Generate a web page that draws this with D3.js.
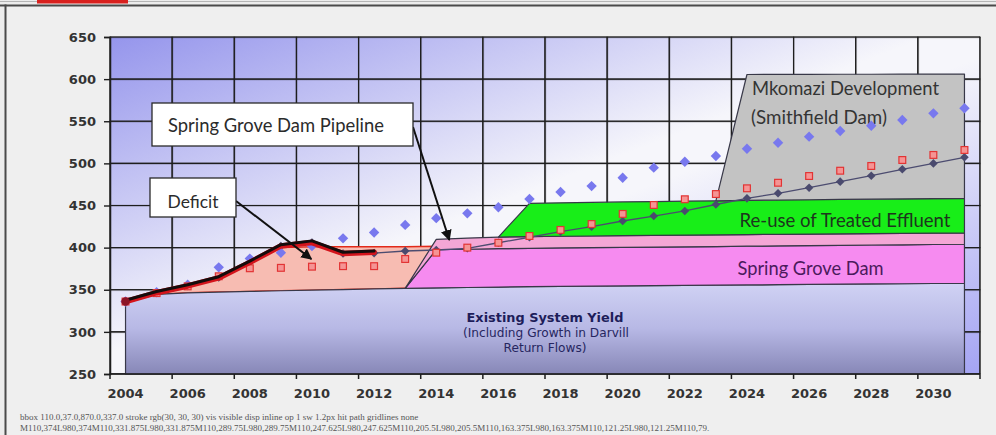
<!DOCTYPE html>
<html><head><meta charset="utf-8">
<script src="https://cdn.jsdelivr.net/npm/d3@7"></script>
<style>
html,body{margin:0;padding:0;background:#ececec;}
svg{display:block;}
</style></head>
<body>
<svg id="chart" width="996" height="435"></svg>
<script>
// ---- data -------------------------------------------------------------
const years = [2004,2005,2006,2007,2008,2009,2010,2011,2012,2013,2014,2015,2016,2017,
               2018,2019,2020,2021,2022,2023,2024,2025,2026,2027,2028,2029,2030,2031];
const xTickLabels = [2004,2006,2008,2010,2012,2014,2016,2018,2020,2022,2024,2026,2028,2030];
const yTicks = [250,300,350,400,450,500,550,600,650];

const existingYield = [334.5,344.5,346.4,347.2,348.0,348.8,349.5,350.2,351.0,351.7,
                       352.2,352.7,353.2,353.6,353.9,354.2,354.5,354.8,355.1,355.4,
                       355.7,356.0,356.3,356.6,356.9,357.1,357.4,357.6];
const springGroveDam = [null,null,null,null,null,null,null,null,null,0,
                        45.3,45.4,45.5,45.6,45.7,45.7,45.8,45.8,45.9,45.9,
                        46.0,46.0,46.1,46.1,46.2,46.2,46.3,46.4];
const springGrovePipeline = [null,null,null,null,null,null,null,null,null,0,
                             12.3,13.2,13.8,13.9,13.9,13.9,13.9,13.9,13.8,13.8,
                             13.8,13.8,13.7,13.7,13.6,13.6,13.5,13.5];
const reuseEffluent = [null,null,null,null,null,null,null,null,null,null,null,null,0,
                       39.5,39.7,39.9,40.0,40.2,40.4,40.5,40.6,40.7,40.7,40.8,40.8,40.9,40.9,41.0];
const mkomazi = [null,null,null,null,null,null,null,null,null,null,null,null,null,null,
                 null,null,null,null,null,0,149.4,149.2,148.9,148.6,148.3,148.1,147.9,147.5];
const deficitTop = [335.5,346,354.5,364,382,400,401,401,401,401,401.5,
                    null,null,null,null,null,null,null,null,null,null,null,null,null,null,null,null,null];
const demandHigh = [336,347,356,376.6,387,394,402,411,418,427,435,440.7,447.9,457.7,
                    466,473,483,494.9,502,508.8,517.4,524.5,531.7,538.4,544.7,551.5,559.4,565.4];
const demandMid = [336,346,354,366,375.5,376,377.4,378,378,386.5,394,400,405.8,413.8,
                   421,428,440,450.6,457.4,463.6,470.4,477,485,491.3,496.9,504,510,515.9];
const demandBase = [336,346.5,354.5,364.5,382.5,402,406,393,393.5,396,397.2,399.2,405.8,412.3,
                    418.9,424.8,431.6,437.5,443.5,451.2,458.5,464.5,471.1,478.3,485.4,493,500,507.2];
const actualUseRed   = [336,346.5,354.5,364,382.5,402,406,393,394.5,
                        null,null,null,null,null,null,null,null,null,null,null,null,null,null,null,null,null,null,null];
const actualUseBlack = [337.5,348,356,365.5,384,403.5,408,394.5,396,
                        null,null,null,null,null,null,null,null,null,null,null,null,null,null,null,null,null,null,null];

const svg = d3.select('#chart');
const plot = {left:110, right:980, top:37, bottom:374};
const x = d3.scaleBand().domain(years).range([plot.left, plot.right]).padding(0);
const bw = x.bandwidth();
const cx = yr => x(yr) + bw / 2;
const xAt = yrFloat => x(years[0]) + bw / 2 + (yrFloat - years[0]) * bw;
const xEdge = d3.scaleLinear()
  .domain([years[0] - 0.5, years[years.length - 1] + 0.5])
  .range([plot.left, plot.right]);
const boundaries = xTickLabels.map(v => v - 0.5).concat([years[years.length - 1] + 0.5]);
const y = d3.scaleLinear().domain([250, 650]).range([plot.bottom, plot.top]);

const rows = years.map((yr, i) => ({
  year: yr, existing: existingYield[i], springGrove: springGroveDam[i],
  pipeline: springGrovePipeline[i], reuse: reuseEffluent[i], mkomazi: mkomazi[i]
}));

const defs = svg.append('defs');
const ink = '#1e1e1e';

svg.append('rect').attr('width', 996).attr('height', 435).attr('fill', '#ececec');
svg.append('rect').attr('x', 7).attr('y', 7).attr('width', 989).attr('height', 428).attr('fill', '#efefef');
svg.append('rect').attr('x', 0).attr('y', 1).attr('width', 996).attr('height', 1).attr('fill', '#b5b5b5');
svg.append('rect').attr('x', 0).attr('y', 4.5).attr('width', 996).attr('height', 2).attr('fill', '#4a4a4a');
svg.append('rect').attr('x', 4.5).attr('y', 4.5).attr('width', 2).attr('height', 431).attr('fill', '#4a4a4a');
svg.append('rect').attr('x', 37).attr('y', 0).attr('width', 91).attr('height', 3.5).attr('fill', '#d9201e');

const bg = defs.append('linearGradient').attr('id', 'plotBg')
  .attr('x1', 0).attr('y1', 0).attr('x2', 1).attr('y2', 1);
bg.selectAll('stop').data([[0, '#9595ec'], [0.47, '#f6f6fb'], [0.53, '#f6f6fb'], [1, '#a4a4f3']])
  .join('stop').attr('offset', d => d[0]).attr('stop-color', d => d[1]);
const eg = defs.append('linearGradient').attr('id', 'existingFill')
  .attr('x1', 0).attr('y1', 0).attr('x2', 0).attr('y2', 1);
eg.selectAll('stop').data([[0, '#d0d2f4'], [0.5, '#b7b8e5'], [1, '#8787b7']])
  .join('stop').attr('offset', d => d[0]).attr('stop-color', d => d[1]);

svg.append('rect')
  .attr('x', plot.left).attr('y', plot.top)
  .attr('width', plot.right - plot.left).attr('height', plot.bottom - plot.top)
  .attr('fill', 'url(#plotBg)');

// grid as a repeating tile sized from the scales
const cellW = xEdge(boundaries[1]) - xEdge(boundaries[0]);
const cellH = y(yTicks[yTicks.length - 2]) - y(yTicks[yTicks.length - 1]);
const pat = defs.append('pattern').attr('id', 'gridTile').attr('patternUnits', 'userSpaceOnUse')
  .attr('x', plot.left - 0.6).attr('y', plot.top - 0.6)
  .attr('width', cellW).attr('height', cellH);
pat.append('rect').attr('x', 0).attr('y', 0).attr('width', 1.2).attr('height', cellH).attr('fill', ink);
pat.append('rect').attr('x', 0).attr('y', 0).attr('width', cellW).attr('height', 1.2).attr('fill', ink);
svg.append('rect').attr('class', 'grid-tiles')
  .attr('x', plot.left - 0.6).attr('y', plot.top - 0.6)
  .attr('width', plot.right - plot.left + 1.2).attr('height', plot.bottom - plot.top + 0.6)
  .attr('fill', 'url(#gridTile)');

// gridlines as one path built from the scales
const gridPath = d3.path();
yTicks.forEach(v => { gridPath.moveTo(plot.left, y(v)); gridPath.lineTo(plot.right, y(v)); });
boundaries.forEach(v => { gridPath.moveTo(xEdge(v), plot.top); gridPath.lineTo(xEdge(v), plot.bottom); });
const gp = svg.append('path').attr('class', 'gridlines').attr('d', gridPath.toString())
  .attr('fill', 'none').attr('stroke', ink).attr('stroke-width', 1.2);

const deficitArea = d3.area()
  .defined((d, i) => deficitTop[i] != null)
  .x((d, i) => cx(years[i]))
  .y0((d, i) => y(existingYield[i]))
  .y1((d, i) => y(deficitTop[i]));
svg.append('path').datum(years).attr('d', deficitArea)
  .attr('fill', '#f7bcb2').attr('stroke', '#e22a1a').attr('stroke-width', 1.5);

const keys = ['existing', 'springGrove', 'pipeline', 'reuse', 'mkomazi'];
const fills = { existing: 'url(#existingFill)', springGrove: '#f68bf0', pipeline: '#f4a7d6',
                reuse: '#18ee18', mkomazi: '#c3c3c3' };
const layers = d3.stack().keys(keys).value((d, k) => d[k] == null ? 0 : d[k])(rows);
layers.forEach(layer => {
  const k = layer.key;
  const area = d3.area()
    .defined(d => d.data[k] != null)
    .x(d => cx(d.data.year))
    .y0(d => k === 'existing' ? y(250) : y(d[0]))
    .y1(d => y(d[1]));
  svg.append('path').datum(layer).attr('d', area)
    .attr('fill', fills[k]).attr('stroke', '#383848').attr('stroke-width', 1.2)
    .attr('stroke-linejoin', 'round');
});

function fit(sel, width) {
  const fs = parseFloat(sel.attr('font-size'));
  const w = sel.node().getComputedTextLength();
  sel.attr('font-size', (fs * width / w).toFixed(2));
  return sel;
}
const areaLabel = (txt, xx, yy, width, color, family, weight, anchor) =>
  fit(svg.append('text').attr('x', xx).attr('y', yy).text(txt)
      .attr('font-family', family).attr('font-weight', weight || 'normal')
      .attr('text-anchor', anchor || 'start')
      .attr('font-size', 16).attr('fill', color), width);
const calibri = 'Lato, "Open Sans", sans-serif';
const verdana = '"DejaVu Sans", Verdana, sans-serif';
areaLabel('Mkomazi Development', 752, 95, 187, '#343434', calibri);
areaLabel('(Smithfield Dam)', 751, 124, 136, '#343434', calibri);
areaLabel('Re-use of Treated Effluent', 739.5, 227, 211, '#1d361d', calibri);
areaLabel('Spring Grove Dam', 737.5, 275, 146, '#4b1a5c', calibri);
areaLabel('Existing System Yield', 545, 322, 157, '#1d1d5a', verdana, 'bold', 'middle');
areaLabel('(Including Growth in Darvill', 546, 336.5, 166, '#262660', verdana, 'normal', 'middle');
areaLabel('Return Flows)', 545, 351.5, 83, '#262660', verdana, 'normal', 'middle');

const diamond = r => `M0,${-r}L${r},0L0,${r}L${-r},0Z`;
const baseLine = d3.line().defined(d => d != null).x((d, i) => cx(years[i])).y(d => y(d));
svg.append('path').datum(demandBase).attr('d', baseLine)
  .attr('fill', 'none').attr('stroke', '#4c4c70').attr('stroke-width', 1.3);
svg.append('g').selectAll('path').data(demandBase).join('path')
  .attr('transform', (d, i) => `translate(${cx(years[i])},${y(d)})`)
  .attr('d', diamond(4.3)).attr('fill', '#4a4a6e');
svg.append('g').selectAll('path').data(demandHigh).join('path')
  .attr('transform', (d, i) => `translate(${cx(years[i])},${y(d)})`)
  .attr('d', diamond(5.2)).attr('fill', '#7878ee');
svg.append('g').selectAll('rect').data(demandMid).join('rect')
  .attr('x', (d, i) => cx(years[i]) - 3.4).attr('y', d => y(d) - 3.4)
  .attr('width', 6.8).attr('height', 6.8)
  .attr('fill', '#f59494').attr('stroke', '#e23434').attr('stroke-width', 1.2);

const useLine = d3.line().defined(d => d != null).x((d, i) => cx(years[i])).y(d => y(d));
svg.append('path').datum(actualUseRed).attr('d', useLine)
  .attr('fill', 'none').attr('stroke', '#d4141c').attr('stroke-width', 5.5)
  .attr('stroke-linejoin', 'round').attr('stroke-linecap', 'round');
svg.append('path').datum(actualUseBlack).attr('d', useLine)
  .attr('fill', 'none').attr('stroke', '#140c0c').attr('stroke-width', 3)
  .attr('stroke-linejoin', 'round').attr('stroke-linecap', 'round');
svg.append('circle').attr('cx', cx(years[0])).attr('cy', y(actualUseRed[0])).attr('r', 4.2)
  .attr('fill', '#8c1426');

const axisFont = g => g.selectAll('text')
  .attr('font-family', verdana).attr('font-weight', 'bold').attr('font-size', 13).attr('fill', '#333');
svg.append('g').attr('transform', `translate(${plot.left},0)`)
  .call(d3.axisLeft(y).tickValues(yTicks).tickSize(6).tickPadding(8))
  .call(g => g.select('.domain').attr('stroke', ink).attr('stroke-width', 1.4))
  .call(g => g.selectAll('.tick line').attr('stroke', ink).attr('stroke-width', 1.4))
  .call(axisFont);

const xAxisPath = d3.path();
xAxisPath.moveTo(plot.left, plot.bottom);
xAxisPath.lineTo(plot.right, plot.bottom);
boundaries.forEach(v => { xAxisPath.moveTo(xEdge(v), plot.bottom); xAxisPath.lineTo(xEdge(v), plot.bottom + 5); });
svg.append('path').attr('class', 'x-axis-line').attr('d', xAxisPath.toString())
  .attr('fill', 'none').attr('stroke', ink).attr('stroke-width', 1.5);
svg.append('g').attr('transform', `translate(0,${plot.bottom})`)
  .call(d3.axisBottom(x).tickValues(xTickLabels).tickSize(0).tickPadding(15))
  .call(g => g.select('.domain').remove())
  .call(axisFont);

defs.append('marker').attr('id', 'arrowHead')
  .attr('viewBox', '0 0 10 10').attr('refX', 9).attr('refY', 5)
  .attr('markerWidth', 5.5).attr('markerHeight', 5.5).attr('orient', 'auto')
  .append('path').attr('d', 'M0,0L10,5L0,10Z').attr('fill', '#111');
function callout(txt, box, textX, textW, baseline, from, tip) {
  svg.append('line')
    .attr('x1', from[0]).attr('y1', from[1]).attr('x2', tip[0]).attr('y2', tip[1])
    .attr('stroke', '#111').attr('stroke-width', 2).attr('marker-end', 'url(#arrowHead)');
  svg.append('rect').attr('x', box[0]).attr('y', box[1]).attr('width', box[2]).attr('height', box[3])
    .attr('fill', '#ffffff').attr('stroke', '#2a2a2a').attr('stroke-width', 1.3);
  fit(svg.append('text').attr('x', textX).attr('y', baseline).text(txt)
      .attr('font-family', calibri).attr('font-size', 16).attr('fill', '#2b2b2b'), textW);
}
callout('Spring Grove Dam Pipeline', [152, 103, 261, 43], 168, 216, 132,
        [413, 127], [xAt(2014.42), y(409)]);
callout('Deficit', [150, 178, 86, 39], 167.5, 51, 207.5,
        [236, 201], [xAt(2009.98), y(386.5)]);

// diagnostics
const bb = gp.node().getBBox();
const cs = getComputedStyle(gp.node());
const hit = document.elementFromPoint(150, 79);
svg.append('text').attr('x', 20).attr('y', 420).attr('font-size', 9).attr('fill', '#555')
  .text(`bbox ${bb.x.toFixed(1)},${bb.y.toFixed(1)},${bb.width.toFixed(1)},${bb.height.toFixed(1)} stroke ${cs.stroke} vis ${cs.visibility} disp ${cs.display} op ${cs.opacity} sw ${cs.strokeWidth} hit ${hit && hit.tagName} ${hit && hit.getAttribute('class')} ${hit && hit.getAttribute('fill')}`);
svg.append('text').attr('x', 20).attr('y', 431).attr('font-size', 9).attr('fill', '#555')
  .text(gp.attr('d').slice(0, 160));
</script>
</body></html>
